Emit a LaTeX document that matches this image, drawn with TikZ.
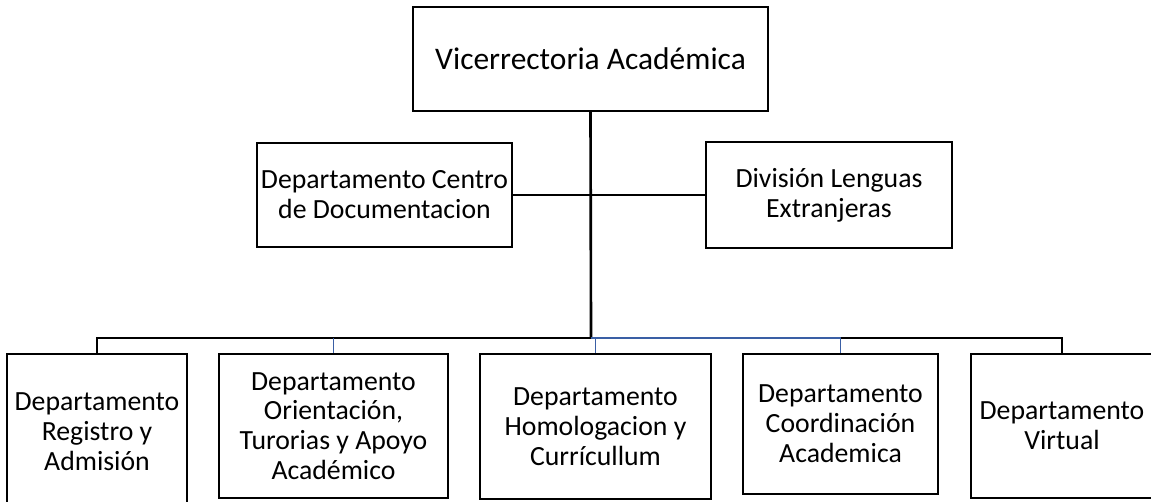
\documentclass[tikz,border=0pt]{standalone}
\usepackage{fontspec}
\setmainfont{Carlito}
\usetikzlibrary{calc}
\definecolor{linkblue}{RGB}{58,95,165}

\begin{document}
\begin{tikzpicture}[x=.02cm,y=-.02cm,
 box/.style={draw,line width=1.3pt,align=center,inner sep=1pt,font=\fontsize{15.8}{17}\selectfont},
 trunk/.style={line width=1.5pt},
 thinlink/.style={line width=.7pt},
 bluelink/.style={linkblue,line width=1pt}]
 \useasboundingbox (0,0) rectangle (1151,502);
 \clip (0,0) rectangle (1151,502);
 % top and middle level
 \node[box,minimum width=7.1cm,minimum height=2.08cm,font=\fontsize{17.9}{21}\selectfont] (vice) at (590.5,59) {Vicerrectoria Académica};
 \node[box,minimum width=5.1cm,minimum height=2.08cm] (centro) at (384.5,195) {Departamento Centro\\de Documentacion};
 \node[box,minimum width=4.92cm,minimum height=2.12cm] (lenguas) at (829,195) {División Lenguas\\Extranjeras};
 % departments
 \node[box,minimum width=3.6cm,minimum height=3.12cm] (registro) at (97,432) {Departamento\\Registro y\\Admisión};
 \node[box,minimum width=4.58cm,minimum height=2.88cm] (orientacion) at (333.5,426) {Departamento\\Orientación,\\Turorias y Apoyo\\Académico};
 \node[box,minimum width=4.62cm,minimum height=2.9cm] (homolog) at (595.5,426.5) {Departamento\\Homologacion y\\Currícullum};
 \node[box,minimum width=3.9cm,minimum height=2.8cm] (coord) at (840.5,424) {Departamento\\Coordinación\\Academica};
 \node[box,minimum width=3.64cm,minimum height=2.88cm] (virtual) at (1062,426) {Departamento\\Virtual};
 \coordinate (bus) at (591,338);
 \coordinate (mid) at (591,195);
 % connectors
 \draw[trunk] (vice.south) -- (bus);
 \draw[thinlink] (centro.east) -- (mid) -- (lenguas.west);
 \draw[trunk] (registro.north) |- (bus);
 \draw[bluelink] (orientacion.north) -- (orientacion.north |- bus);
 \draw[bluelink] (bus) -- (coord.north |- bus) -- (coord.north);
 \draw[bluelink] (homolog.north) -- (homolog.north |- bus);
 \draw[trunk] (coord.north |- bus) -| (virtual.north);
\end{tikzpicture}
\end{document}
